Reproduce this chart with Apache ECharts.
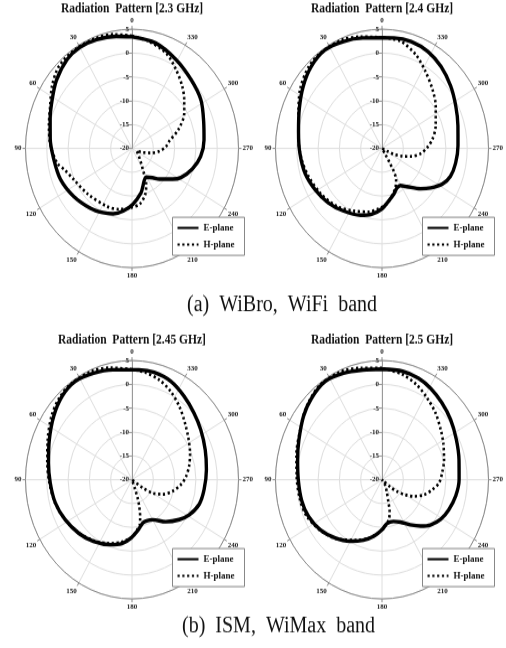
<!DOCTYPE html>
<html><head><meta charset="utf-8">
<script src="https://cdn.jsdelivr.net/npm/echarts/dist/echarts.min.js"></script>
<style>html,body{margin:0;padding:0;background:#fff;overflow:hidden}
#wrap{width:506px;height:648px;overflow:hidden}
#c{width:506px;height:579px;transform:scaleY(1.1192);transform-origin:0 0}
</style></head><body><div id="wrap"><div id="c"></div></div>
<script>
// [angle (deg), gain (dB)]
const ePlane23 = [[0,3.4],[9,3.8],[20,4.3],[30,4.5],[39,4.1],[51,2.8],[61,1.4],[72,0.2],[84,-0.7],[97,-1.5],[111,-2.0],[126,-3.0],[142,-4.1],[153,-4.9],[162,-5.6],[171,-6.7],[181,-8.3],[193,-10.5],[198,-11.7],[204,-12.8],[209,-13.1],[218,-12.2],[225,-10.9],[236,-8.5],[242,-7.0],[253,-5.2],[264,-3.8],[276,-3.0],[288,-2.3],[302,-0.9],[316,0.0],[331,1.3],[346,2.8],[360,3.4]];
const hPlane23 = [[0,3.6],[10,4.3],[21,4.7],[32,4.8],[45,4.3],[55,2.9],[65,1.2],[76,0.1],[88,-0.85],[100,-2.2],[106,-3.6],[115,-4.8],[133,-5.9],[154,-6.5],[167,-6.9],[179,-7.6],[189,-8.2],[198,-9.9],[204,-11.8],[206,-12.8],[210,-14.9],[217,-16.7],[233,-18.3],[243,-18.8],[252,-17.3],[258,-15.5],[265,-13.5],[273,-12.0],[280,-11.1],[290,-8.4],[301,-5.7],[310,-4.0],[318,-2.4],[328,-0.5],[338,1.5],[350,2.8],[360,3.6]];
const ePlane24 = [[0,3.2],[11,3.6],[22,4.2],[33,4.6],[44,3.9],[55,2.6],[67,1.1],[80,-0.1],[93,-0.7],[106,-1.2],[119,-2.1],[132,-3.0],[145,-4.05],[160,-5.1],[170,-6.0],[180,-7.35],[188,-8.85],[196,-10.0],[203,-11.0],[209,-11.1],[216,-10.1],[227,-7.6],[234,-5.9],[242,-4.0],[250,-2.9],[260,-2.45],[272,-2.15],[285,-1.55],[297,-0.55],[309,0.75],[321,2.05],[332,3.0],[343,3.45],[353,3.35],[360,3.2]];
const hPlane24 = [[0,3.3],[12,3.95],[23,4.7],[34,4.8],[45,4.3],[57,2.9],[69,1.0],[84,-0.25],[97,-1.0],[108,-1.75],[123,-2.75],[139,-3.9],[153,-5.3],[167,-6.35],[176,-7.3],[186,-8.4],[193,-9.75],[201,-11.2],[207,-12.7],[210,-14.5],[211,-16.5],[212,-18.5],[228,-20],[245,-18.7],[246,-17.0],[251,-15.0],[256,-13.1],[263,-10.9],[271,-9.4],[279,-8.05],[290,-6.6],[305,-4.6],[316,-2.9],[328,-0.85],[338,1.2],[349,2.9],[360,3.3]];
const ePlane245 = [[0,3.05],[11,3.5],[22,4.1],[33,4.55],[43,4.0],[54,2.7],[67,1.1],[80,-0.1],[92,-0.8],[105,-1.35],[118,-2.2],[132,-3.2],[145,-4.2],[159,-5.4],[170,-6.4],[179,-7.8],[188,-9.4],[196,-10.6],[203,-10.7],[210,-10.3],[222,-8.15],[233,-6.1],[241,-4.7],[252,-3.4],[263,-2.95],[277,-2.4],[290,-1.7],[303,-0.75],[314,0.2],[325,1.35],[336,2.55],[347,3.1],[356,3.1],[360,3.05]];
const hPlane245 = [[0,3.15],[12,4.0],[23,4.7],[34,4.8],[45,4.2],[55,3.1],[67,1.5],[80,0.2],[92,-0.6],[105,-1.3],[118,-2.2],[132,-3.3],[145,-4.4],[159,-5.7],[170,-6.8],[180,-8.0],[186,-9.3],[191,-10.4],[194,-12.1],[197,-14.2],[199,-15.9],[200,-18.1],[218,-20],[236,-16.9],[240,-14.4],[247,-12.2],[256,-10.15],[265,-8.45],[273,-7.3],[282,-6.3],[292,-5.3],[302,-4.3],[314,-2.75],[324,-1.05],[334,0.65],[343,1.9],[352,2.7],[360,3.15]];
const ePlane25 = [[0,3.2],[11,3.45],[22,4.1],[33,4.55],[44,3.8],[54,2.75],[67,1.2],[78,0.25],[90,-0.35],[103,-0.65],[114,-1.1],[126,-2.1],[138,-3.55],[150,-5.1],[161,-6.6],[171,-8.0],[180,-9.5],[187,-10.7],[197,-10.85],[206,-10.1],[215,-8.45],[223,-6.7],[230,-5.2],[239,-3.9],[248,-3.1],[259,-2.35],[270,-1.9],[283,-1.45],[296,-0.6],[308,0.45],[319,1.4],[329,2.3],[338,2.95],[348,3.25],[360,3.2]];
const hPlane25 = [[0,3.4],[12,3.95],[24,4.7],[36,4.65],[49,3.45],[61,1.9],[75,0.8],[88,0.05],[102,-0.3],[113,-0.7],[126,-2.0],[138,-3.5],[155,-6.0],[166,-7.4],[176,-8.9],[184,-10.2],[191,-11.5],[195,-13.1],[198,-15.2],[204,-17.3],[213,-18.6],[225,-20],[232,-17.5],[235,-15.7],[240,-13.65],[245,-11.75],[252,-9.7],[260,-8.0],[267,-6.6],[276,-5.8],[286,-4.85],[298,-3.7],[307,-2.7],[318,-1.2],[328,0.1],[338,1.55],[348,2.6],[360,3.4]];

const chartTitles = ['Radiation  Pattern [2.3 GHz]','Radiation  Pattern [2.4 GHz]','Radiation  Pattern [2.45 GHz]','Radiation  Pattern [2.5 GHz]'];
const captions = ['(a)  WiBro,  WiFi  band','(b)  ISM,  WiMax  band'];
const seriesNames = ['E-plane','H-plane'];
const radiusTicks = {min:-20, max:5, interval:5};
const angleTicks = {min:0, max:360, interval:30};

const FONT = '"Liberation Serif", "DejaVu Serif", serif';
const panels = [
  {title: chartTitles[0], e: ePlane23, h: hPlane23},
  {title: chartTitles[1], e: ePlane24, h: hPlane24},
  {title: chartTitles[2], e: ePlane245, h: hPlane245},
  {title: chartTitles[3], e: ePlane25, h: hPlane25}
];
const centers = [[132,132.6],[382,132.6],[132,428.6],[382,428.6]];

const option = {animation:false, backgroundColor:'#fff', title:[], polar:[], angleAxis:[], radiusAxis:[], legend:[], series:[]};
panels.forEach((p,i)=>{
  const [cx,cy] = centers[i];
  option.title.push({text:p.title, left:cx, top:cy-131, textAlign:'center', padding:0,
    textStyle:{fontFamily:FONT, fontWeight:'bold', fontSize:11.5, color:'#111'}});
  option.polar.push({center:[cx,cy], radius:106.5});
  option.angleAxis.push({polarIndex:i, type:'value', min:angleTicks.min, max:angleTicks.max, interval:angleTicks.interval,
    startAngle:90, clockwise:false,
    axisLine:{lineStyle:{color:'#8a8a8a', width:1}},
    axisTick:{show:true, length:3, lineStyle:{color:'#8a8a8a'}},
    axisLabel:{fontFamily:FONT, fontWeight:'bold', fontSize:7, color:'#222', margin:4, formatter:v=> v===360?'':String(v)},
    splitLine:{show:true, lineStyle:{color:'#dedede', width:1}}});
  option.radiusAxis.push({polarIndex:i, type:'value', min:radiusTicks.min, max:radiusTicks.max, interval:radiusTicks.interval,
    axisLine:{show:true, lineStyle:{color:'#9a9a9a'}},
    axisTick:{show:true, length:3, lineStyle:{color:'#9a9a9a'}},
    axisLabel:{fontFamily:FONT, fontWeight:'bold', fontSize:7, color:'#222', margin:3},
    splitLine:{show:true, lineStyle:{color:'#dedede'}}});
  option.legend.push({data:seriesNames, left:cx+40.5, top:cy+61.5, orient:'vertical', selectedMode:false,
    itemWidth:21, itemHeight:10, itemGap:6, padding:[5,10,5,4], borderColor:'#888', borderWidth:1, backgroundColor:'#fff',
    itemStyle:{color:'rgba(0,0,0,0)', borderColor:'rgba(0,0,0,0)', borderWidth:0},
    textStyle:{fontFamily:FONT, fontWeight:'bold', fontSize:9, color:'#111'}});
  option.series.push({type:'line', name:seriesNames[0], coordinateSystem:'polar', polarIndex:i,
    data:p.e.map(d=>[d[1],d[0]]), symbol:'none', smooth:0.3,
    lineStyle:{color:'#000', width:3.4}, itemStyle:{color:'#000'}, z:3});
  option.series.push({type:'line', name:seriesNames[1], coordinateSystem:'polar', polarIndex:i,
    data:p.h.map(d=>[d[1],d[0]]), symbol:'none', smooth:0.3,
    lineStyle:{color:'#000', width:2.6, type:[2.2,2.6]}, itemStyle:{color:'#000'}, z:4});
});
option.title.push({text:captions[0], left:187, top:262.5, padding:0, textStyle:{fontFamily:FONT, fontWeight:'normal', fontSize:20, color:'#111'}});
option.title.push({text:captions[1], left:182, top:549.5, padding:0, textStyle:{fontFamily:FONT, fontWeight:'normal', fontSize:20, color:'#111'}});

const chart = echarts.init(document.getElementById('c'), null, {renderer:'canvas'});
chart.setOption(option);
</script></body></html>
